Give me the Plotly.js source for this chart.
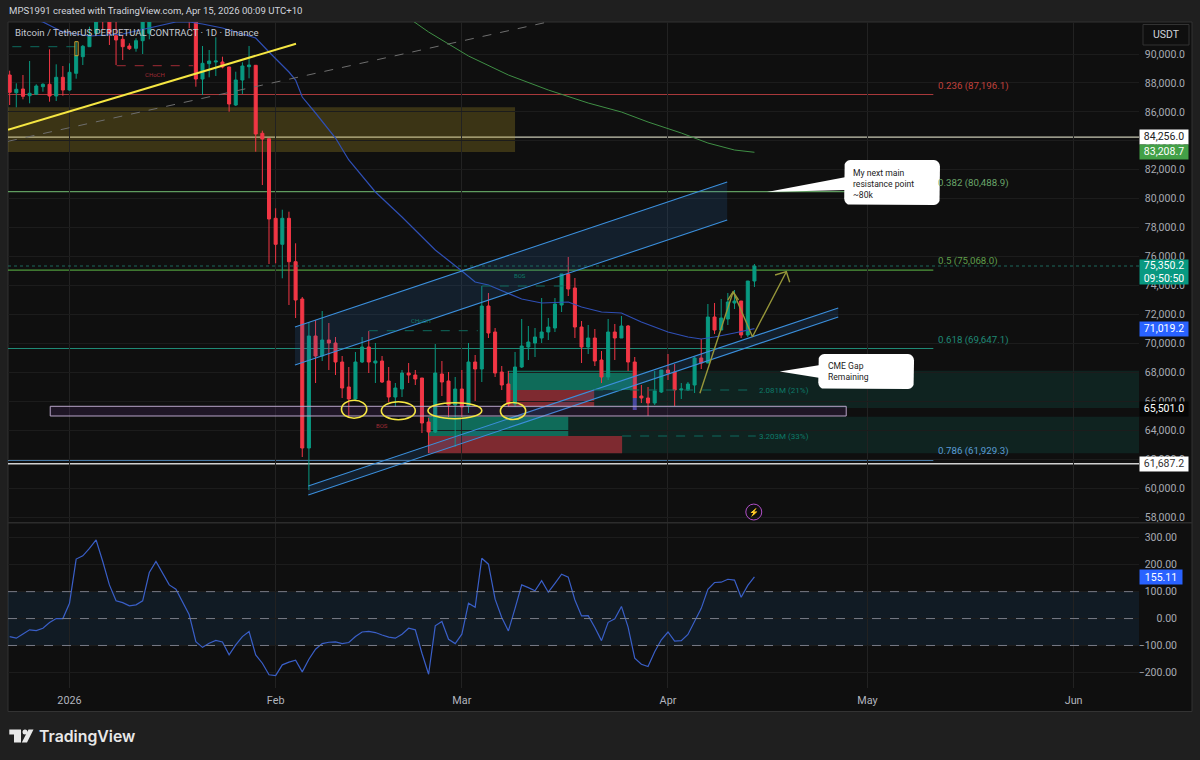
<!DOCTYPE html>
<html><head><meta charset="utf-8">
<script src="https://cdn.plot.ly/plotly-3.0.1.min.js"></script>
<style>html,body{margin:0;padding:0;background:#1f1f1f}#c{width:1200px;height:760px}</style></head>
<body><div id="c"></div>
<script>
// ---- candle data, daily, first candle = 23 Dec 2025 (day -9 relative to 1 Jan 2026) ----
const firstDay = -9;
const opens = [88549,87325,87581,87118,87215,87740,87906,87097,88390,87512,88666,89813,90504,91430,94200,92800,91264,91015,90552,90393,90919,91430,93400,95200,96900,95600,95500,95100,92600,88272,89329,89447,89447,89101,86475,88203,89122,89219,84520,84147,78646,76850,78646,75647,73070,62774,70513,69131,70237,70030,68717,66989,66160,68717,69753,68648,68786,67404,66298,66851,67957,67818,67611,64571,63880,67888,67404,65746,66851,65677,68717,68233,72586,70790,68026,67197,65815,68371,69753,70030,70375,70790,71066,72656,74798,73830,71135,69753,70375,68855,67680,70790,70375,71204,68717,66367,66229,65884,66644,68164,68026,66782,66782,67127,68993,68648,71826,70928,71688,72794,72932,70582,74314];
const highs = [88846,87975,88549,89516,87906,87975,90324,89288,89170,89357,90850,90621,91886,93500,94800,93500,92700,91313,90739,91084,93500,94200,95300,97800,97200,96000,95900,95500,93300,90552,90276,91154,89813,89122,88777,89426,90552,89239,84700,84147,79337,79240,79102,76919,73208,71481,71619,72241,71412,70444,69131,68371,69408,70444,70859,70030,69131,68371,67266,68164,68648,68164,67611,64847,69961,68786,68026,67680,68164,70030,69201,73968,73484,71066,68440,68095,69408,71688,71204,71066,73139,71757,73139,74798,75972,74521,71550,71273,70998,69477,71688,71342,71895,71273,69062,67127,66990,68095,68164,69270,68579,67266,67335,69062,70306,72725,72794,73070,73484,73692,72932,74314,75489];
const lows = [86476,86317,86869,86593,87166,87394,86704,86752,87118,87464,88293,89240,90504,91313,91658,90621,89240,89585,90276,90159,90000,91015,92700,94800,95300,95000,94900,91775,87740,87166,88390,88479,89012,86013,86406,87235,88320,83249,80947,75489,75537,74500,72655,71757,62152,59872,67266,68786,68164,67818,66229,64917,66091,68648,67957,67266,67266,65953,65607,66298,67266,67127,63810,62429,63810,66367,64917,62843,64917,65193,66022,67335,70375,67680,66782,65607,65607,68302,68855,69062,70030,70237,70790,72172,73277,70375,68648,69269,68440,67266,67473,68855,70375,68095,65400,65884,64986,65746,66575,67473,65677,66160,66713,66575,68233,68648,70651,70928,71273,72379,70375,70444,73900];
const closes = [87353,87560,87077,87284,87789,87906,87097,88390,87512,88735,89882,90532,91313,92400,92800,91430,90967,90504,90366,90919,92400,93400,95200,96900,95600,95500,95100,92600,88272,89357,89516,89516,89101,86545,88203,89170,89239,84472,84126,78598,76850,78646,75647,73001,62774,70513,69131,70237,70030,68717,66920,66160,68717,69753,68717,68786,67335,66298,66920,67957,67818,67542,64502,63880,67957,67335,65746,66851,65607,68717,68233,72586,70721,67957,67127,65815,68371,69822,70099,70444,70790,71135,72725,74798,73761,71135,69753,70375,68786,67680,70790,70375,71204,68717,66229,66229,65884,66713,68164,67957,66782,66851,67197,68993,68648,71826,70928,71757,72863,72932,70582,74314,75350];

// ---- momentum (CCI) pane, same days as the candles ----
const cci = [-67,-73,-57,-42,-45,-36,-15,0,0,57,221,233,261,292,212,125,66,59,47,51,66,171,212,168,125,109,63,14,-86,-107,-92,-81,-87,-135,-98,-67,-48,-135,-166,-209,-212,-172,-162,-155,-198,-151,-114,-93,-88,-87,-93,-89,-67,-50,-48,-52,-61,-69,-73,-58,-36,-42,-129,-207,-27,-11,-77,-93,-58,57,42,224,202,72,4,-46,38,125,115,103,141,98,131,165,154,69,10,11,-33,-82,-14,-1,45,-32,-147,-170,-178,-123,-79,-50,-84,-82,-59,-11,38,109,134,135,146,143,79,123,155.11];

// ---- moving averages, read at selected days ----
const blueMaDays = [-5,-4,-1,3,8,12,15,16,18,20,23,25,28,30,33,34,35,37,40,42,46,50,55,59,61,63,66,68,71,75,77,80,83,86,90,93,95,97,100,103];
const blueMaVals = [92349,92211,91520,91243,91382,91796,92073,92211,92211,92073,91796,91520,91105,90138,88756,88203,87028,85923,84195,82675,80464,78736,76456,75005,74245,74037,73485,73070,72793,72863,72517,72172,72103,71481,70790,70444,70306,70444,70720,71019.2];
const greenMaDays = [51,54,60,66,72,78,83,87,92,96,100,103];
const greenMaVals = [92487,91520,89861,88549,87512,86614,85992,85301,84541,83850,83366,83208.7];

// ---- axis ticks ----
const priceTicks = [58000,60000,62000,64000,66000,68000,70000,72000,74000,76000,78000,80000,82000,84000,86000,88000,90000];
const cciTicks = [-200,-100,0,100,200,300];
const monthDays = [0,31,59,90,120,151];
const monthLabels = ['2026','Feb','Mar','Apr','May','Jun'];

// ---- fibonacci levels ----
const fibPrices = [87196.1,80488.9,75068.0,69647.1,61929.3];
const fibLabels = ['0.236 (87,196.1)','0.382 (80,488.9)','0.5 (75,068.0)','0.618 (69,647.1)','0.786 (61,929.3)'];
const fibColors = ['#a8383a','#5f9c5f','#4f9a3c','#1f8a76','#5b9bd5'];
const fibTextColors = ['#c0413c','#6aa56a','#5f9e4a','#1f8a76','#5b9bd5'];

// ---- price scale labels ----
const axisLabelPrices = [84256.0,83208.7,75350.2,71019.2,65501.0,61687.2];
const axisLabelText = ['84,256.0','83,208.7','75,350.2<br>09:50:50','71,019.2','65,501.0','61,687.2'];
const axisLabelBg = ['#ffffff','#43a047','#089981','#2962ff','#050505','#ffffff'];
const axisLabelFg = ['#222222','#ffffff','#ffffff','#ffffff','#ffffff','#333333'];

// ---- drawings (days, prices) ----
const zoneYellowDays = [-9.25,67], zoneYellowPrices = [83228,86317];
const channelUpDays = [33.9,98.9,98.9,33.9], channelUpPrices = [71135,81155,78529,68510];
const channelLowDays = [35.9,115.6,115.6,35.9], channelLowPrices = [60148,72448,71826,59526];
const trendYellowDays = [-9.25,34.06], trendYellowPrices = [84769,90711];
const trendGreyDays = [-9.25,73.76], trendGreyPrices = [83967,92397];
const arrowDays = [94.8,99.8,102.7,107.8], arrowPrices = [66554,73574,70465,74957];
const arrowHead1Days = [99,99.8,100.6], arrowHead1Prices = [73001,73574,73001];
const arrowHead2Days = [106.1,107.8,108.3], arrowHead2Prices = [74729,74957,74224];
const ellipseDays = [[40.9,44.7],[46.9,52],[53.9,62],[64.8,68.6]];
const ellipsePrices = [[64828,66070],[64730,65973],[64799,65905],[64744,65918]];
const rangeBoxDays = [-2.9,116.8], rangeBoxPrices = [64986,65656];
const callout1Days = [116.5,130.9], callout1Prices = [79565,82675];
const pointer1Days = [104.9,116.8,116.8], pointer1Prices = [80464,81500,80602];
const callout2Days = [112.6,127], callout2Prices = [66851,69270];
const pointer2Days = [106.8,112.9,112.9], pointer2Prices = [68060,68509,67611];

const day = n => new Date(Date.UTC(2026,0,1)+n*864e5).toISOString().slice(0,19).replace('T',' ');
const days = opens.map((_,i)=>day(firstDay+i));
const LEFT = 8, RIGHT = 1139, W = 1200, H = 760;
const FONT = 'Roboto, sans-serif';
const xs = a => a.map(day);
const fx = px => px/W, fy = py => 1-py/H;

function roundedBox(dd,pp){ // rounded rectangle outline in data units
  const rd=0.9, rp=450, out={x:[],y:[]};
  const c=[[dd[1]-rd,pp[1]-rp,90],[dd[1]-rd,pp[0]+rp,0],[dd[0]+rd,pp[0]+rp,-90],[dd[0]+rd,pp[1]-rp,-180]];
  c.forEach(k=>{for(let i=0;i<=4;i++){const a=(k[2]-22.5*i)*Math.PI/180;
    out.x.push(day(k[0]+rd*Math.cos(a)));out.y.push(k[1]+rp*Math.sin(a));}});
  return out;
}
const line=(d,p,color,width,dash)=>({type:'scatter',mode:'lines',x:xs(d),y:p,line:{color,width,dash:dash||'solid'},hoverinfo:'skip',showlegend:false,xaxis:'x',yaxis:'y'});
const poly=(d,p,fill,color,width)=>({type:'scatter',mode:'lines',x:xs(d),y:p,fill:'toself',fillcolor:fill,line:{color:color||fill,width:width||0},hoverinfo:'skip',showlegend:false,xaxis:'x',yaxis:'y'});

const box1=roundedBox(callout1Days,callout1Prices), box2=roundedBox(callout2Days,callout2Prices);
const boxTrace=b=>({type:'scatter',mode:'lines',x:b.x,y:b.y,fill:'toself',fillcolor:'#ffffff',line:{color:'#ffffff',width:0},hoverinfo:'skip',showlegend:false});

const traces=[
  {type:'candlestick',x:days,open:opens,high:highs,low:lows,close:closes,xaxis:'x',yaxis:'y',
   increasing:{line:{color:'#089981',width:1},fillcolor:'#089981'},
   decreasing:{line:{color:'#f23645',width:1},fillcolor:'#f23645'},whiskerwidth:0,hoverinfo:'skip',showlegend:false},
  line(blueMaDays,blueMaVals,'#2f4fb5',1.2),
  line(greenMaDays,greenMaVals,'#3f8f45',1),
  line(trendGreyDays,trendGreyPrices,'#6e6e6e',1,'dash'),
  line(trendYellowDays,trendYellowPrices,'#f5e642',2),
  poly(channelUpDays.concat(channelUpDays[0]),channelUpPrices.concat(channelUpPrices[0]),'rgba(40,110,190,0.17)','rgba(0,0,0,0)',0),
  line(channelUpDays.slice(0,2),channelUpPrices.slice(0,2),'#3b8fdc',1.1),
  line(channelUpDays.slice(2),channelUpPrices.slice(2),'#3b8fdc',1.1),
  poly(channelLowDays.concat(channelLowDays[0]),channelLowPrices.concat(channelLowPrices[0]),'rgba(40,110,190,0.17)','rgba(0,0,0,0)',0),
  line(channelLowDays.slice(0,2),channelLowPrices.slice(0,2),'#3b8fdc',1.1),
  line(channelLowDays.slice(2),channelLowPrices.slice(2),'#3b8fdc',1.1),
  line(arrowDays,arrowPrices,'#96963a',1.4),
  line(arrowHead1Days,arrowHead1Prices,'#96963a',1.4),
  line(arrowHead2Days,arrowHead2Prices,'#96963a',1.4),
  poly(pointer1Days,pointer1Prices,'#ffffff'),
  poly(pointer2Days,pointer2Prices,'#ffffff'),
  boxTrace(box1),boxTrace(box2),
  {type:'scatter',mode:'lines',x:days,y:cci,line:{color:'#3a5fc8',width:1.2},hoverinfo:'skip',showlegend:false,xaxis:'x',yaxis:'y2'}
];

const R=(x0,x1,y0,y1,fill,layer,extra)=>Object.assign({type:'rect',xref:'x',yref:'y',x0:day(x0),x1:day(x1),y0,y1,fillcolor:fill,line:{width:0},layer:layer||'below'},extra||{});
const HL=(y,color,width,dash,d1,layer)=>({type:'line',xref:d1===undefined?'x domain':'x',yref:'y',x0:d1===undefined?0:day(-9.25),x1:d1===undefined?1:day(d1),y0:y,y1:y,line:{color,width,dash:dash||'solid'},layer:layer||'below'});
const seg=(d0,d1,y,color)=>({type:'line',xref:'x',yref:'y',x0:day(d0),x1:day(d1),y0:y,y1:y,line:{color,width:1,dash:'dash'},layer:'above'});
const pbox=(x0,x1,y0,y1,fill,color,w,layer)=>({type:'rect',xref:'paper',yref:'paper',x0:fx(x0),x1:fx(x1),y0:fy(y1),y1:fy(y0),fillcolor:fill,line:{color:color||fill,width:w||0},layer:layer||'below'});

const shapes=[
  pbox(8,1192,22,711.5,'#0f0f0f','#333333',1),
  R(zoneYellowDays[0],zoneYellowDays[1],zoneYellowPrices[0],zoneYellowPrices[1],'rgba(180,155,40,0.27)'),
  R(65.9,160.83,65538,68116,'#0f2320'),
  R(53.9,160.83,62408,64937,'#0f2320'),
  R(65.9,84.7,66782,68116,'#0f6b59'),
  R(65.9,78.9,65628,66782,'#7e2a30'),
  R(53.9,75,63603,64937,'#0f6b59'),
  R(53.9,83.1,62408,63603,'#7e2a30'),
  seg(78.9,103.2,66782,'#0e6b5e'),
  seg(83.1,103.2,63603,'#0e6b5e'),
  seg(-8.6,1.3,90504,'#0e6b5e'),
  seg(7.1,18.6,89191,'#a02c36'),
  seg(45,61.4,70880,'#0e6b5e'),
  seg(62,74.2,73968,'#0e6b5e'),
  R(0.8,1.3,89882,90850,'rgba(0,0,0,0)','above',{line:{color:'#c8a030',width:1}}),
  R(84.7,85.3,65400,66229,'#4a4aa0','above'),
  R(rangeBoxDays[0],rangeBoxDays[1],rangeBoxPrices[0],rangeBoxPrices[1],'rgba(120,60,160,0.16)','above',{line:{color:'#b8a4c8',width:1}}),
  HL(84256.0,'#c9c9b4',1.4),
  HL(61687.2,'#d0d0d0',1.4),
  HL(75350.2,'#1f7f6f',0.8,'dot',undefined,'above'),
  ...fibPrices.map((p,i)=>HL(p,fibColors[i],1.1,'solid',129.9)),
  ...ellipseDays.map((d,i)=>({type:'circle',xref:'x',yref:'y',x0:day(d[0]),x1:day(d[1]),y0:ellipsePrices[i][0],y1:ellipsePrices[i][1],line:{color:'#f5e642',width:1.6},layer:'above'})),
  {type:'circle',xref:'x',yref:'y',x0:day(101.7),x1:day(104.1),y0:57800,y1:58900,line:{color:'#b04fc8',width:1},layer:'above'},
  // oscillator band and levels
  {type:'rect',xref:'x domain',yref:'y2',x0:0,x1:1,y0:-100,y1:100,fillcolor:'rgba(33,130,210,0.11)',line:{width:0},layer:'below'},
  ...[100,0,-100].map(v=>({type:'line',xref:'x domain',yref:'y2',x0:0,x1:1,y0:v,y1:v,line:{color:'#787b86',width:1,dash:'dash'},layer:'above'})),
  // pane divider
  {type:'line',xref:'paper',yref:'paper',x0:fx(8),x1:fx(1192),y0:fy(522.7),y1:fy(522.7),line:{color:'#2c2c2c',width:1.5},layer:'above'},
  // USDT button
  pbox(1143,1189,24.5,45,'#0f0f0f','#333333',1,'above'),
  // logo
  {type:'path',xref:'paper',yref:'paper',path:[[9.3,729.5],[21,729.5],[21,742.5],[14,742.5],[14,734.5],[9.3,734.5]].map((q,i)=>(i?'L':'M')+fx(q[0])+','+fy(q[1])).join(' ')+' Z',fillcolor:'#e8e8e8',line:{width:0},layer:'above'},
  {type:'circle',xref:'paper',yref:'paper',x0:fx(22.5),x1:fx(27.5),y0:fy(734.5),y1:fy(729.5),fillcolor:'#e8e8e8',line:{width:0},layer:'above'},
  {type:'path',xref:'paper',yref:'paper',path:[[28.5,729.5],[33.5,729.5],[27,742.5],[21.8,742.5]].map((q,i)=>(i?'L':'M')+fx(q[0])+','+fy(q[1])).join(' ')+' Z',fillcolor:'#e8e8e8',line:{width:0},layer:'above'}
];

const T=(xd,p,text,color,size,extra)=>Object.assign({xref:'x',yref:'y',x:day(xd),y:p,text,showarrow:false,font:{family:FONT,size,color},xanchor:'center',yanchor:'middle'},extra||{});
const P=(px,py,text,color,size,extra)=>Object.assign({xref:'paper',yref:'paper',x:fx(px),y:fy(py),text,showarrow:false,font:{family:FONT,size,color},xanchor:'left',yanchor:'middle',align:'left'},extra||{});

const annotations=[
  P(7,11,'MPS1991 created with TradingView.com, Apr 15, 2026 00:09 UTC+10','#d1d4dc',9.6),
  P(13,33,'Bitcoin / TetherUS PERPETUAL CONTRACT · 1D · Binance','#c4c7cf',9.6),
  ...fibPrices.map((p,i)=>T(130.25,p,fibLabels[i],fibTextColors[i],9.7,{xanchor:'left',yshift:9})),
  T(12.9,88549,'CHoCH','#a02c36',6),
  T(52.8,71571,'CHoCH','#0e7a68',6),
  T(67.8,74660,'BOS','#0e7a68',6),
  T(47,64364,'BOS','#a02c36',6),
  T(103.4,66782,'2.081M (21%)','#0e7a68',8,{xanchor:'left'}),
  T(103.4,63603,'3.203M (33%)','#0e7a68',8,{xanchor:'left'}),
  T(117.5,81000,'My next main<br>resistance point<br>~80k','#222222',8.6,{xanchor:'left',align:'left'}),
  T(113.8,68060,'CME Gap<br>Remaining','#222222',8.6,{xanchor:'left',align:'left'}),
  T(102.9,58350,'⚡','#c05ad0',8),
  ...axisLabelPrices.map((p,i)=>({xref:'paper',yref:'y',x:fx(1164),y:p,yshift:i===2?-6:0,text:axisLabelText[i],showarrow:false,
    font:{family:FONT,size:10.5,color:axisLabelFg[i]},bgcolor:axisLabelBg[i],width:48,height:i===2?24:13.5,borderpad:0,xanchor:'center',yanchor:'middle',align:'center',valign:'middle'})),
  {xref:'paper',yref:'y2',x:fx(1161),y:155.11,text:'155.11',showarrow:false,font:{family:FONT,size:10.5,color:'#ffffff'},bgcolor:'#2962ff',width:42,height:14,borderpad:0,xanchor:'center',yanchor:'middle'},
  P(1166,35,'USDT','#d1d4dc',10.5,{xanchor:'center'}),
  P(37,736,'TradingView','#e8e8e8',15.8,{font:{family:'Inter, sans-serif',size:15.8,color:'#e8e8e8',weight:600}})
];

const layout={
  width:W,height:H,margin:{l:0,r:0,t:0,b:0},paper_bgcolor:'#1f1f1f',plot_bgcolor:'#0f0f0f',showlegend:false,
  font:{family:FONT,color:'#b2b5be'},boxgap:0.35,
  xaxis:{type:'date',domain:[fx(LEFT),fx(RIGHT)],range:[day(-9.25),day(160.83)],anchor:'y2',tickvals:monthDays.map(day),ticktext:monthLabels,
    showgrid:true,gridcolor:'#222222',gridwidth:1,ticks:'',showline:false,zeroline:false,rangeslider:{visible:false},fixedrange:true,
    tickfont:{family:FONT,size:10.8,color:'#b2b5be'},ticklabelstandoff:4},
  yaxis:{domain:[fy(522),fy(22)],range:[57661,92211],anchor:'free',position:fx(1185),side:'left',tickvals:priceTicks,tickformat:',.1f',
    showgrid:true,gridcolor:'#1c1c1c',gridwidth:1,zeroline:false,showline:false,ticks:'',fixedrange:true,tickfont:{family:FONT,size:10.5,color:'#a8abb3'}},
  yaxis2:{domain:[fy(688),fy(523)],range:[-258,355],anchor:'free',position:fx(1177),side:'left',tickvals:cciTicks,tickformat:',.2f',
    showgrid:true,gridcolor:'#1c1c1c',gridwidth:1,zeroline:false,showline:false,ticks:'',fixedrange:true,tickfont:{family:FONT,size:10.5,color:'#a8abb3'}},
  shapes,annotations
};
Plotly.newPlot('c',traces,layout,{displayModeBar:false,staticPlot:true});
</script></body></html>
